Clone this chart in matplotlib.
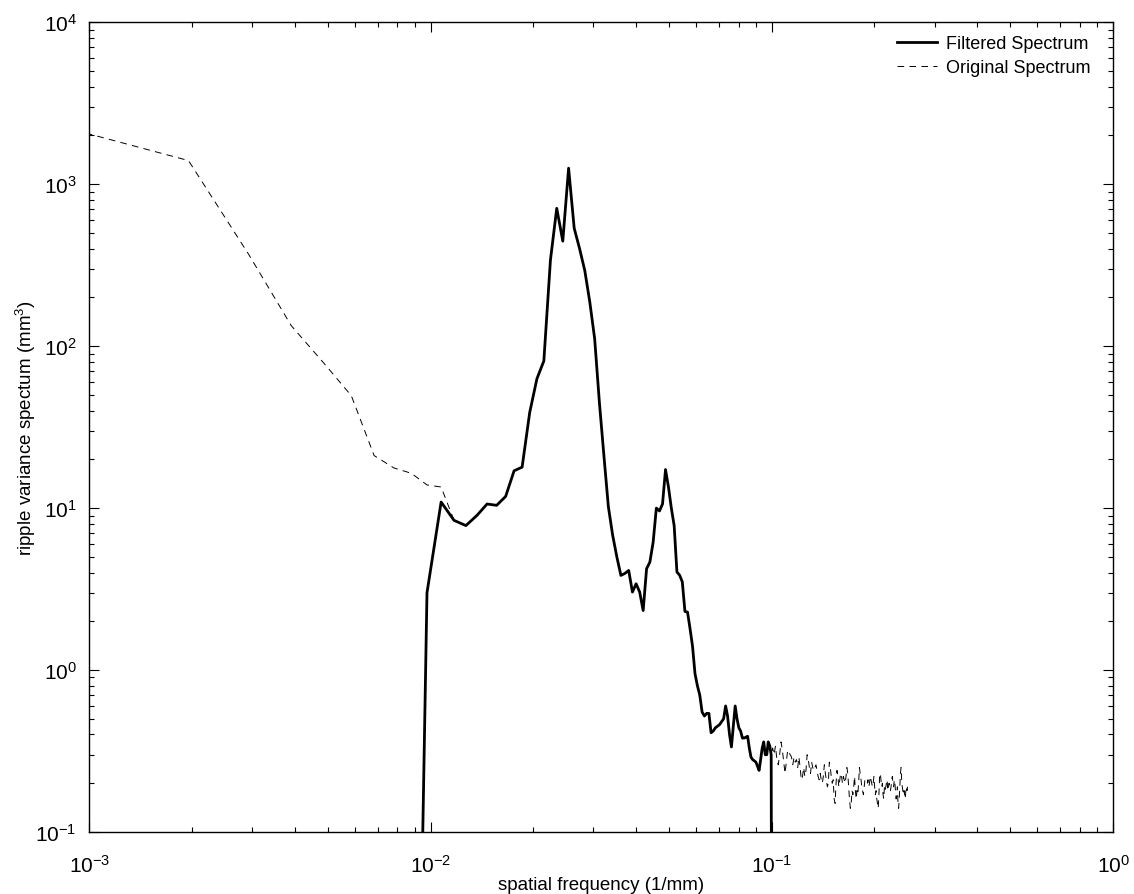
import numpy as np
import matplotlib
matplotlib.use("Agg")
import matplotlib.pyplot as plt

plt.rcParams["font.family"] = ["Liberation Sans", "DejaVu Sans"]
plt.rcParams["mathtext.fontset"] = "custom"
plt.rcParams["mathtext.rm"] = "Liberation Sans"
plt.rcParams["mathtext.it"] = "Liberation Sans:italic"
plt.rcParams["mathtext.default"] = "regular"
plt.rcParams["lines.scale_dashes"] = False

# spectrum bins: k = 1..256, frequency = k / 1024 (1/mm)
df = 1.0 / 1024

# original spectrum, low wavenumbers (k = 1..11)
orig_low = [2070, 1400, 370, 134, 78, 49.5, 21.1, 17.7, 16.4, 13.9, 13.5]

# filtered spectrum, k = 10..102 (equals the original from k = 12 on)
filt_start = 10
filtered = [3.0, 10.9, 8.4, 7.8, 9.0, 10.6, 10.4, 11.8, 17.0, 17.9,
            39, 63, 81, 340, 710, 445, 1256, 535, 400, 293,
            187, 111, 45, 21, 10.2, 6.8, 5.0, 3.84, 3.95, 4.12,
            3.03, 3.41, 3.03, 2.33, 4.22, 4.65, 6.17, 10.0, 9.6, 10.6,
            17.3, 13.5, 10.0, 7.8, 4.03, 3.85, 3.5, 2.3, 2.28, 1.8,
            1.4, 0.95, 0.8, 0.70, 0.55, 0.52, 0.54, 0.54, 0.41, 0.42,
            0.44, 0.45, 0.46, 0.48, 0.50, 0.60, 0.52, 0.40, 0.335, 0.45,
            0.60, 0.50, 0.44, 0.42, 0.38, 0.38, 0.385, 0.39, 0.33, 0.29,
            0.28, 0.275, 0.27, 0.255, 0.24, 0.28, 0.33, 0.36, 0.30, 0.30,
            0.36, 0.34, 0.30]
# value of the filter outside its band (practically zero)
filt_floor = 1e-5

# original spectrum, high wavenumbers (k = 103..256)
orig_high = [0.33, 0.30, 0.34, 0.28, 0.26, 0.30, 0.36, 0.32, 0.27, 0.23, 0.27, 0.32, 0.31, 0.30,
             0.29, 0.26, 0.29, 0.27, 0.28, 0.25, 0.29, 0.25, 0.21, 0.22, 0.25, 0.22, 0.24, 0.30,
             0.28, 0.25, 0.23, 0.27, 0.25, 0.24, 0.25, 0.26, 0.24, 0.22, 0.21, 0.23, 0.21, 0.20, 0.22,
             0.26, 0.23, 0.21, 0.19, 0.20, 0.27, 0.25, 0.22, 0.20, 0.21, 0.16, 0.15, 0.20, 0.24, 0.22,
             0.19, 0.21,
             0.23, 0.22, 0.20, 0.22, 0.21, 0.20, 0.22, 0.25, 0.23, 0.19, 0.16, 0.14, 0.15, 0.18, 0.17,
             0.19, 0.22, 0.18, 0.16, 0.18,
             0.17, 0.20, 0.25, 0.23, 0.21, 0.19, 0.18, 0.17, 0.19, 0.21, 0.21, 0.20, 0.20, 0.21, 0.19,
             0.20, 0.22, 0.21, 0.20, 0.19, 0.20, 0.22,
             0.19, 0.17, 0.18, 0.16, 0.15, 0.14, 0.17, 0.22, 0.23, 0.21, 0.19, 0.20, 0.17, 0.16, 0.19,
             0.18, 0.19, 0.20, 0.21, 0.18, 0.19, 0.20, 0.19, 0.18,
             0.19, 0.21, 0.22, 0.20, 0.19, 0.21, 0.20, 0.18, 0.16, 0.17, 0.19, 0.15, 0.14, 0.16, 0.19,
             0.23, 0.25, 0.21, 0.19, 0.18, 0.17, 0.18, 0.17, 0.16, 0.18, 0.19, 0.18, 0.19]

# build the two series
n_low = len(orig_low)
original = np.array(orig_low + filtered[n_low + 1 - filt_start:] + orig_high)
k_orig = np.arange(1, len(original) + 1)
f_orig = k_orig * df

filt_vals = np.array([filt_floor] + filtered + [filt_floor])
k_filt = np.arange(filt_start - 1, filt_start - 1 + len(filt_vals))
f_filt = k_filt * df

fig = plt.figure(figsize=(11.34, 8.95), dpi=100)
ax = fig.add_axes([0.0787, 0.0693, 0.9028, 0.9047])

ax.loglog(f_filt, filt_vals, color="black", lw=2.0, label="Filtered Spectrum")
ax.loglog(f_orig, original, color="black", lw=0.7, dashes=(4.8, 3.8),
          label="Original Spectrum", zorder=1)

ax.set_xlim(1e-3, 1e0)
ax.set_ylim(1e-1, 1e4)

ax.tick_params(which="both", direction="in", top=True, right=True, width=0.8)
ax.tick_params(which="major", length=7, labelsize=15)
ax.tick_params(which="minor", length=3.5)
ax.tick_params(axis="x", which="major", pad=16)
ax.tick_params(axis="y", which="major", pad=9)
for s in ax.spines.values():
    s.set_linewidth(1.0)

ax.set_xlabel("spatial frequency (1/mm)", fontsize=13.5, labelpad=0)
ax.set_ylabel("ripple variance spectum (mm$^3$)", fontsize=13.5, labelpad=-2)

leg = ax.legend(loc="upper right", bbox_to_anchor=(0.99, 1.0), frameon=False,
                fontsize=13, handlelength=2.2, handletextpad=0.5,
                borderaxespad=0.3, labelspacing=0.4)

fig.savefig("out.png", dpi=100)
